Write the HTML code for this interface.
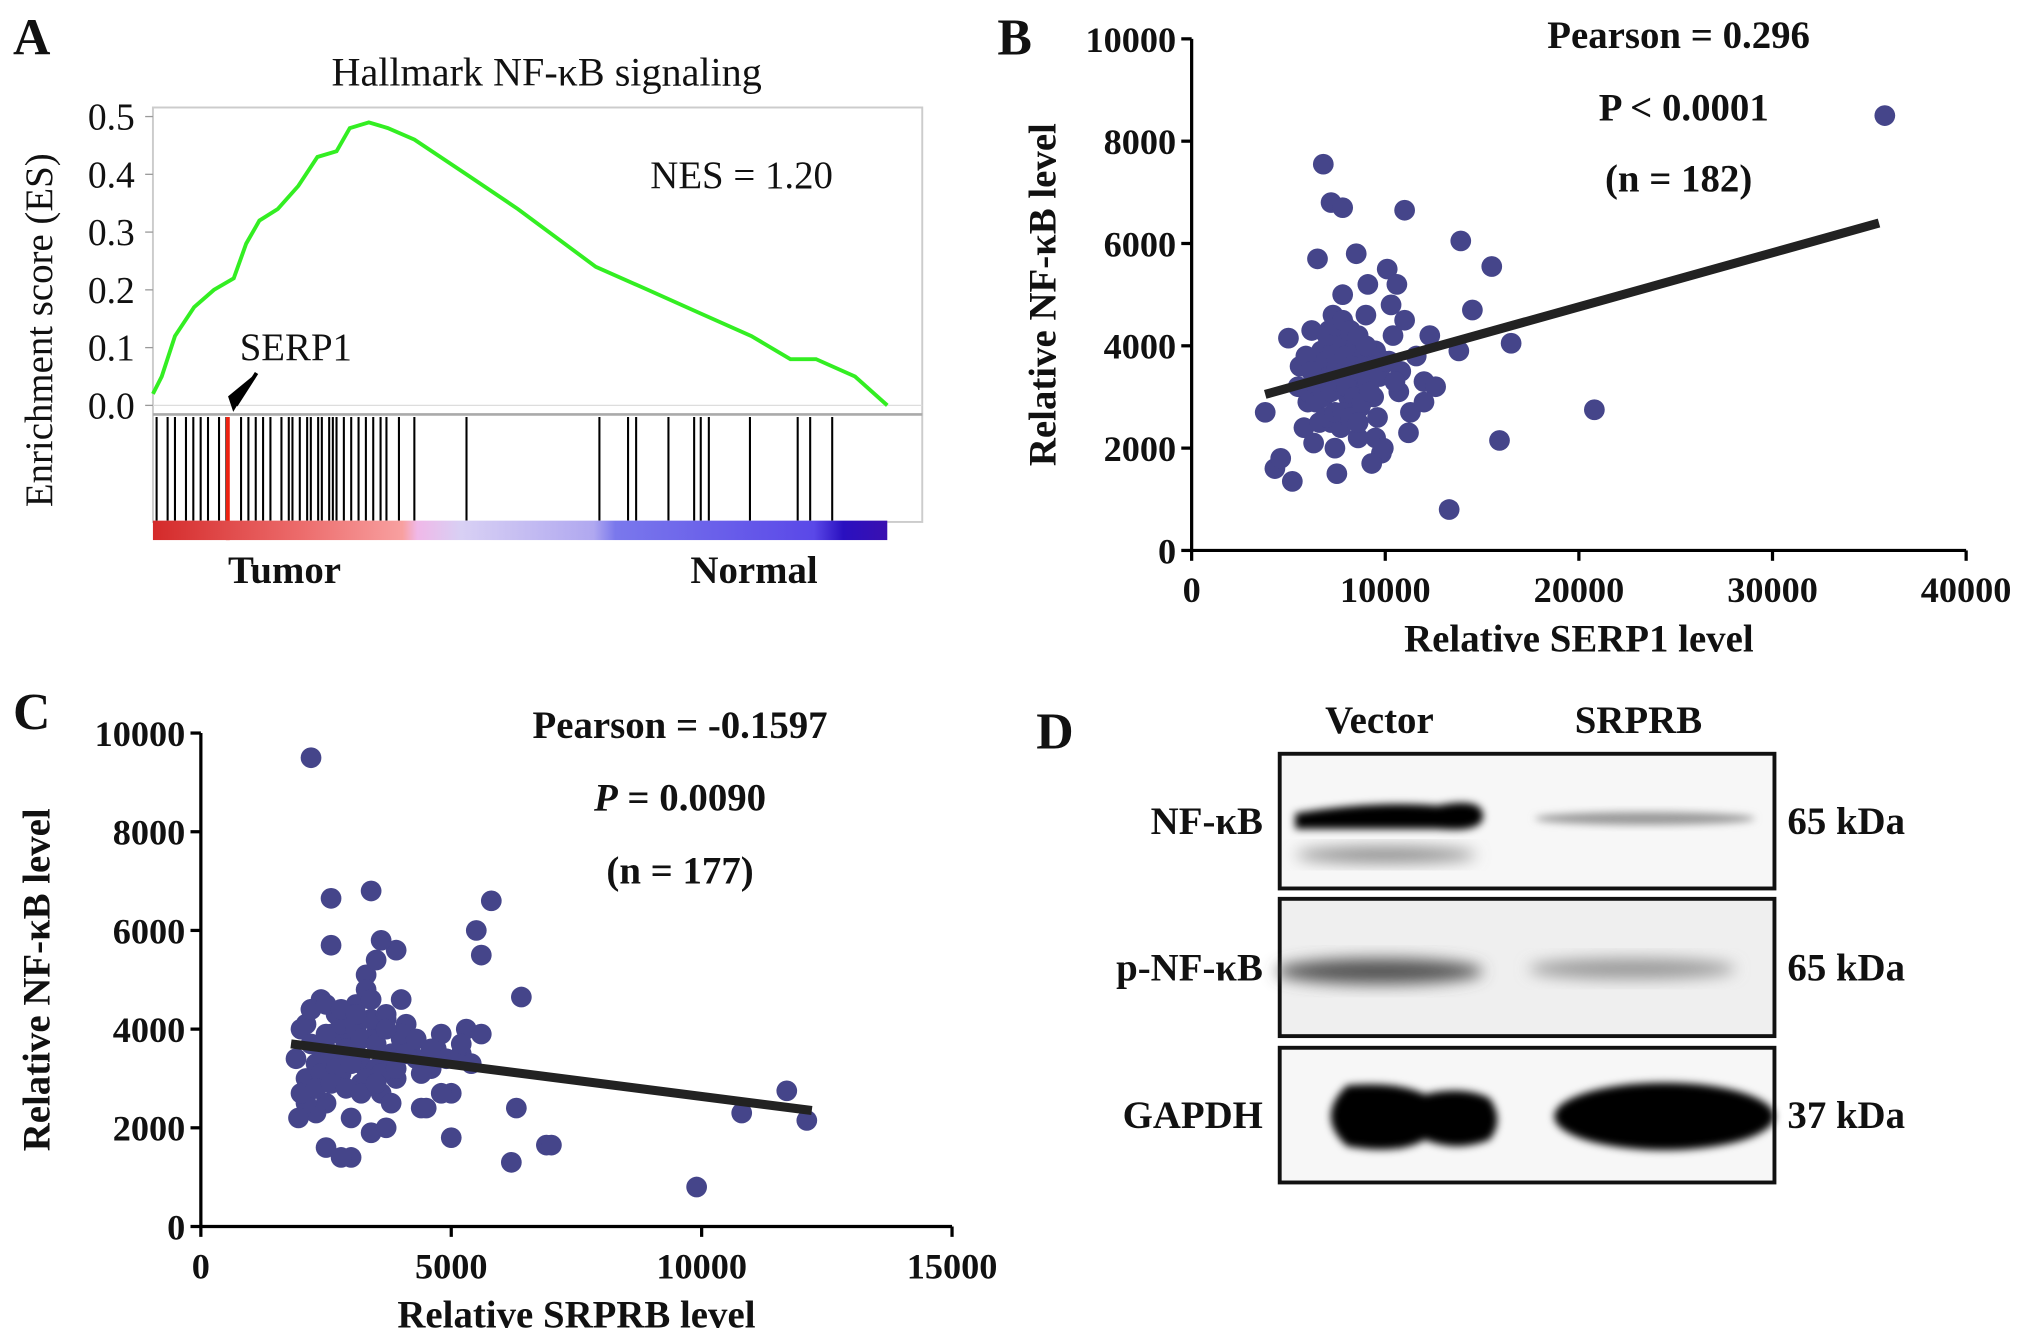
<!DOCTYPE html>
<html><head><meta charset="utf-8"><style>
html,body{margin:0;padding:0;background:#fff}
svg{display:block}
text{font-family:"Liberation Serif",serif;fill:#111}
.t{font-size:28px;font-weight:bold}
.l{font-size:30px;font-weight:bold}
.p{font-size:40px;font-weight:bold}
</style></head><body>
<svg id="fig" width="2031" height="1334" viewBox="0 0 1568 1030" xmlns="http://www.w3.org/2000/svg">
<defs>
<linearGradient id="cb" x1="0" x2="1">
<stop offset="0" stop-color="#d42a2a"/><stop offset="0.2" stop-color="#ec6b6b"/><stop offset="0.34" stop-color="#f8a0a0"/>
<stop offset="0.36" stop-color="#f0b8e8"/><stop offset="0.42" stop-color="#d8d0f4"/><stop offset="0.6" stop-color="#b0a8f0"/>
<stop offset="0.63" stop-color="#7a78ec"/><stop offset="0.9" stop-color="#5a48e8"/><stop offset="0.94" stop-color="#2a10c0"/><stop offset="1" stop-color="#3a10b0"/>
</linearGradient>
<filter id="bl" x="-20%" y="-50%" width="140%" height="200%"><feGaussianBlur stdDeviation="6"/></filter>
<filter id="bl2" x="-20%" y="-50%" width="140%" height="200%"><feGaussianBlur stdDeviation="3"/></filter>
</defs>
<g id="A"></g>
<g id="B"></g>
<g id="C"></g>
<g id="D"></g>
</svg>
<script>
// ---- Panel A data ----
const esRank=[0,0.012,0.03,0.056,0.083,0.11,0.127,0.145,0.17,0.198,0.224,0.25,0.268,0.294,0.32,0.356,0.427,0.497,0.603,0.674,0.744,0.815,0.868,0.903,0.956,1];
const esVal=[0.02,0.05,0.12,0.17,0.2,0.22,0.28,0.32,0.34,0.38,0.43,0.44,0.48,0.49,0.48,0.46,0.40,0.34,0.24,0.20,0.16,0.12,0.08,0.08,0.05,0.0];
const esTicks=[0.0,0.1,0.2,0.3,0.4,0.5];
const hitRanks=[0.005,0.02,0.03,0.045,0.055,0.065,0.075,0.09,0.1,0.102,0.12,0.13,0.14,0.15,0.16,0.175,0.185,0.19,0.2,0.21,0.215,0.225,0.23,0.24,0.245,0.25,0.26,0.27,0.28,0.29,0.3,0.31,0.318,0.335,0.356,0.427,0.608,0.647,0.658,0.702,0.737,0.746,0.757,0.813,0.878,0.895,0.925];
const serpRank=0.102;
// ---- Panel B data ----
const bX=[35800,20800,13300,15900,16500,14500,13800,13900,15500,11000,6800,7200,7800,4300,4600,5200,3800,5000,5600,6000,6300,6600,6900,7100,7300,7500,7700,7900,8100,8300,8500,8700,8900,9100,9300,9500,9800,10100,10400,10700,11000,11300,11600,12000,12300,12600,5800,6200,6500,7000,7400,7800,8200,8600,9000,9400,9800,10200,6000,6700,7200,7600,8000,8400,8800,9200,9600,10300,10800,11200,7500,8500,9500,6300,7300,8300,9300,5500,10600,12000,7900,9900,
6500,6900,7300,7700,8100,8500,8900,6700,7100,7500,7900,8300,8700,9100,6400,6800,7200,7600,8000,8400,8800,9200,7000,7400,7800,8200,8600,9000,6600,7000,7400,7800,8200,8600,5900,6200,9400,9700,10000,10500];
const bY=[8500,2750,800,2150,4050,4700,3900,6050,5550,6650,7550,6800,6700,1600,1800,1350,2700,4150,3600,2900,3300,3800,2600,4300,3200,3700,2400,4400,3000,3500,4100,2800,3400,5200,3900,2200,3600,5500,4200,3100,4500,2700,3800,3300,4200,3200,2400,4300,5700,3400,2000,5000,3800,2200,4600,3000,1900,3700,3100,3900,2500,4100,3600,2800,4000,3300,2600,4800,3500,2300,1500,5800,3900,2100,4600,3100,1700,3200,5200,2900,4300,2000,
3500,3700,3900,4100,4300,4000,3800,3200,3400,3600,3800,3600,3500,3300,2900,3000,3100,3300,3200,3000,2900,3100,4200,4400,4500,4300,4200,4000,2500,2600,2700,2700,2600,2500,3800,3500,3600,3400,3700,3300];
const bXTicks=[0,10000,20000,30000,40000];
const bYTicks=[0,2000,4000,6000,8000,10000];
const bFit=[[3800,3050],[35500,6400]];
// ---- Panel C data ----
const cX=[2200,9900,10800,11700,12100,5800,5500,5600,6400,6200,6900,7000,3400,2600,1900,2100,2300,2400,2500,2700,2800,2900,3000,3100,3200,3300,3500,3600,3700,3800,3900,4000,4200,4400,4600,4800,5000,5200,5400,2000,2300,2600,2900,3200,3500,3800,4100,4400,4700,5000,5300,2500,3000,3400,3900,4300,4800,2100,2700,3300,3600,2400,3100,2800,3700,4500,6300,3000,2600,2200,3500,4000,5600,1950,
2200,2500,2800,3100,3400,3700,4000,2300,2600,2900,3200,3500,3800,4100,2100,2400,2700,3000,3300,3600,3900,2200,2500,2800,3100,3400,3700,2000,2300,2600,2900,3200,3500,4300,4600,4900,5200];
const cY=[9500,800,2300,2750,2150,6600,6000,5500,4650,1300,1650,1650,6800,6650,3400,4100,2800,3600,2500,4300,3100,3800,2200,4500,3300,5100,3900,2700,4200,3500,3000,4600,3700,2400,3200,3900,2700,3500,3300,4000,2300,5700,3700,2900,5400,2500,4100,3100,3600,1800,4000,1600,1400,1900,5600,3400,2700,2500,3300,4800,5800,4600,3700,1400,2000,2400,2400,4300,3900,4400,3200,3800,3900,2200,
3700,3900,4100,4000,4200,4300,3900,3300,3500,3600,3800,3700,3400,3500,3000,3100,3200,3300,3000,3100,3200,4400,4500,4400,4300,4600,4000,2700,2800,2900,2800,2700,2900,3800,3600,3400,3700];
const cXTicks=[0,5000,10000,15000];
const cYTicks=[0,2000,4000,6000,8000,10000];
const cFit=[[1800,3700],[12200,2350]];

const NS="http://www.w3.org/2000/svg";
function mk(p,tag,at,txt){const e=document.createElementNS(NS,tag);for(const k in at)e.setAttribute(k,at[k]);if(txt!==undefined)e.textContent=txt;p.appendChild(e);return e;}

// ---- Panel A ----
(function(){
const g=document.getElementById('A');
const x0=118,x1=685,y0=313,y5=90;
const sx=r=>x0+r*(x1-x0), sy=v=>y0+(y5-y0)*v/0.5;
let t=mk(g,'text',{x:10,y:42,class:'p'},'A');


t=mk(g,'text',{x:422,y:66,'font-size':31,'text-anchor':'middle'},'Hallmark NF-κB signaling');


let r=mk(g,'rect',{x:118,y:83,width:594,height:320,fill:'none',stroke:'#ccc','stroke-width':1.5});


mk(g,'line',{x1:118,x2:712,y1:320,y2:320,stroke:'#aaa','stroke-width':2});
mk(g,'line',{x1:118,x2:712,y1:y0,y2:y0,stroke:'#ddd','stroke-width':1});
esTicks.forEach(v=>{let e=mk(g,'text',{x:104,y:sy(v)+10,'font-size':29,'text-anchor':'end'},v.toFixed(1));


mk(g,'line',{x1:112,x2:118,y1:sy(v),y2:sy(v),stroke:'#999'});});
t=mk(g,'text',{x:0,y:0,'font-size':30,'text-anchor':'middle',transform:'translate(40,255) rotate(-90)'},'Enrichment score (ES)');


let d=esRank.map((q,i)=>(i?'L':'M')+sx(q).toFixed(1)+','+sy(esVal[i]).toFixed(1)).join('');
let p=mk(g,'path',{d:d,fill:'none',stroke:'#33ee22','stroke-width':3});


hitRanks.forEach(q=>{let l=mk(g,'line',{x1:sx(q),x2:sx(q),y1:322,y2:402,stroke:'#000','stroke-width':1.6});

});
let rl=mk(g,'line',{x1:sx(serpRank),x2:sx(serpRank),y1:322,y2:417,stroke:'#e21','stroke-width':3});


let cb=mk(g,'rect',{x:x0,y:402,width:x1-x0,height:15,fill:'url(#cb)'});


mk(g,'path',{d:'M198,288 L180,318 L176,306 Z',fill:'#000'});
mk(g,'line',{x1:198,y1:288,x2:182,y2:313,stroke:'#000','stroke-width':3});
t=mk(g,'text',{x:185,y:278,'font-size':30},'SERP1');


t=mk(g,'text',{x:502,y:145,'font-size':30},'NES = 1.20');


t=mk(g,'text',{x:176,y:450,'font-size':30,'font-weight':'bold'},'Tumor');


t=mk(g,'text',{x:533,y:450,'font-size':30,'font-weight':'bold'},'Normal');


})();

// ---- Scatter helper ----
function scatter(id,o){
const g=document.getElementById(id);
const sx=v=>o.x0+(o.x1-o.x0)*v/o.xmax, sy=v=>o.y0+(o.y1-o.y0)*v/o.ymax;
mk(g,'line',{x1:o.x0,x2:o.x0,y1:o.y0,y2:o.y1,stroke:'#000','stroke-width':2.5});
mk(g,'line',{x1:o.x0,x2:o.x1,y1:o.y0,y2:o.y0,stroke:'#000','stroke-width':2.5});
o.xt.forEach(v=>{mk(g,'line',{x1:sx(v),x2:sx(v),y1:o.y0,y2:o.y0+8,stroke:'#000','stroke-width':2.5});
let e=mk(g,'text',{x:sx(v),y:o.y0+40,class:'t','text-anchor':'middle'},String(v));

});
o.yt.forEach(v=>{mk(g,'line',{x1:o.x0-8,x2:o.x0,y1:sy(v),y2:sy(v),stroke:'#000','stroke-width':2.5});
let e=mk(g,'text',{x:o.x0-12,y:sy(v)+10,class:'t','text-anchor':'end'},String(v));

});
o.xs.forEach((v,i)=>{let c=mk(g,'circle',{cx:sx(v),cy:sy(o.ys[i]),r:8,fill:'#45458a'});

});
let l=mk(g,'line',{x1:sx(o.fit[0][0]),y1:sy(o.fit[0][1]),x2:sx(o.fit[1][0]),y2:sy(o.fit[1][1]),stroke:'#222','stroke-width':7});


let t=mk(g,'text',{x:(o.x0+o.x1)/2,y:o.y0+78,class:'l','text-anchor':'middle'},o.xl);


t=mk(g,'text',{x:0,y:0,class:'l','text-anchor':'middle',transform:`translate(${o.ylx},${(o.y0+o.y1)/2}) rotate(-90)`},o.yl);


}
scatter('B',{x0:920,x1:1518,xmax:40000,y0:425,y1:30,ymax:10000,xs:bX,ys:bY,xt:bXTicks,yt:bYTicks,fit:bFit,xl:'Relative SERP1 level',yl:'Relative NF-κB level',ylx:815});
scatter('C',{x0:155,x1:735,xmax:15000,y0:947,y1:566,ymax:10000,xs:cX,ys:cY,xt:cXTicks,yt:cYTicks,fit:cFit,xl:'Relative SRPRB level',yl:'Relative NF-κB level',ylx:38});
(function(){
const B=document.getElementById('B'),C=document.getElementById('C');
let t=mk(B,'text',{x:770,y:42,class:'p'},'B');


t=mk(B,'text',{x:1296,y:37,class:'l','text-anchor':'middle'},'Pearson = 0.296');


t=mk(B,'text',{x:1300,y:93,class:'l','text-anchor':'middle'},'P < 0.0001');


t=mk(B,'text',{x:1296,y:148,class:'l','text-anchor':'middle'},'(n = 182)');


t=mk(C,'text',{x:10,y:563,class:'p'},'C');


t=mk(C,'text',{x:525,y:570,class:'l','text-anchor':'middle'},'Pearson = -0.1597');


t=mk(C,'text',{x:525,y:626,class:'l','text-anchor':'middle'});
mk(t,'tspan',{'font-style':'italic'},'P');mk(t,'tspan',{},' = 0.0090');


t=mk(C,'text',{x:525,y:682,class:'l','text-anchor':'middle'},'(n = 177)');


})();

// ---- Panel D ----
(function(){
const g=document.getElementById('D');
let t=mk(g,'text',{x:800,y:578,class:'p'},'D');


t=mk(g,'text',{x:1065,y:566,'font-size':30,'font-weight':'bold','text-anchor':'middle'},'Vector');


t=mk(g,'text',{x:1265,y:566,'font-size':30,'font-weight':'bold','text-anchor':'middle'},'SRPRB');


const boxes=[[582,686,'NF-κB','65 kDa'],[694,800,'p-NF-κB','65 kDa'],[809,913,'GAPDH','37 kDa']];
boxes.forEach((b,i)=>{
let r=mk(g,'rect',{x:988,y:b[0],width:382,height:b[1]-b[0],fill:i==1?'#efefef':'#f7f7f7',stroke:'#111','stroke-width':3});


let e=mk(g,'text',{x:975,y:(b[0]+b[1])/2+10,'font-size':30,'font-weight':'bold','text-anchor':'end'},b[2]);


e=mk(g,'text',{x:1380,y:(b[0]+b[1])/2+10,'font-size':30,'font-weight':'bold'},b[3]);


});
mk(g,'path',{d:'M1000,628 Q1060,618 1110,622 Q1145,615 1145,630 Q1145,643 1110,640 Q1060,640 1000,640 Z',fill:'#000',filter:'url(#bl2)'});
mk(g,'ellipse',{cx:1070,cy:660,rx:70,ry:6,fill:'#888',filter:'url(#bl)'});
mk(g,'ellipse',{cx:1270,cy:632,rx:85,ry:5,fill:'#999',filter:'url(#bl2)'});
mk(g,'ellipse',{cx:1065,cy:750,rx:80,ry:10,fill:'#555',filter:'url(#bl)'});
mk(g,'ellipse',{cx:1260,cy:748,rx:80,ry:8,fill:'#999',filter:'url(#bl)'});
mk(g,'path',{d:'M1040,838 Q1080,835 1100,845 Q1130,838 1150,848 Q1162,865 1150,880 Q1125,890 1100,880 Q1080,892 1040,885 Q1015,862 1040,838 Z',fill:'#000',filter:'url(#bl2)'});
mk(g,'ellipse',{cx:1285,cy:862,rx:85,ry:26,fill:'#000',filter:'url(#bl2)'});
})();
</script>
</body></html>
